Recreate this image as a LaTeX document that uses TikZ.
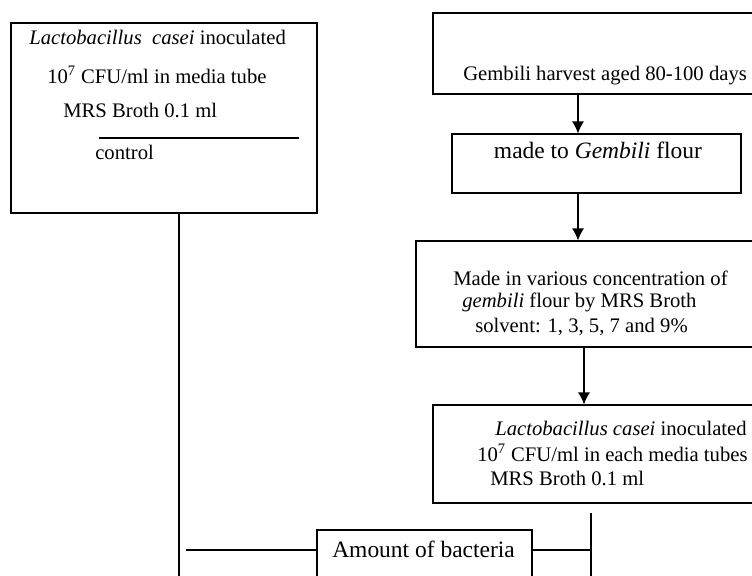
\documentclass[tikz,border=0pt]{standalone}
\usepackage{fontspec}
\setmainfont{Liberation Serif}
\usetikzlibrary{arrows.meta}

\tikzset{box/.style={draw, line width=0.8pt, inner sep=0pt},
         txt/.style={inner sep=0pt, font=\fontsize{14.7}{17}\selectfont},
         wtxt/.style={inner sep=0pt, font=\fontsize{16.7}{19}\selectfont},
         flow/.style={line width=0.8pt, -{Latex[length=8.5pt,width=8.5pt]}},
         link/.style={line width=0.8pt}}

\begin{document}
\begin{tikzpicture}[x=0.025cm, y=-0.025cm]
\useasboundingbox (0,0) rectangle (752,576);
\clip (0,0) rectangle (752,576);

% boxes
\node[box, minimum width=7.65cm, minimum height=4.75cm] (ctrl) at (164,118) {};
\node[box, minimum width=8.675cm, minimum height=2.025cm] (harvest) at (606.5,53.5) {};
\node[box, minimum width=7.225cm, minimum height=1.475cm] (flour) at (596.5,163.5) {};
\node[box, minimum width=9.1cm, minimum height=2.65cm] (conc) at (598,294) {};
\node[box, minimum width=8.675cm, minimum height=2.45cm] (inoc) at (606.5,454) {};
\node[box, minimum width=5.375cm, minimum height=1.75cm] (amount) at (424.5,565) {};

% texts
\node[txt, anchor=west] (ctrl1) at (29,37) {\textit{Lactobacillus\ \ casei} inoculated};
\node[txt, anchor=west] (ctrl2) at (47,75) {10\textsuperscript{7} CFU/ml in media tube};
\node[txt, anchor=west] (ctrl3) at (63,110) {MRS Broth 0.1 ml};
\node[txt, anchor=west] (ctrl4) at (95,152) {control};
\draw[link] (99,138) -- (299,138);

\node[txt, anchor=west] (harv1) at (463,76) {Gembili harvest aged 80-100 days};
\node[wtxt] (flour1) at (598,150) {made to \textit{Gembili} flour};

\node[txt, anchor=west] (conc1) at (453,278) {Made in various concentration of};
\node[txt, anchor=west] (conc2) at (462,302) {\textit{gembili} flour by MRS Broth};
\node[txt, anchor=west] (conc3) at (475,327) {solvent: 1, 3, 5, 7 and 9\%};

\node[txt, anchor=east] (inoc1) at (747,428) {\textit{Lactobacillus casei} inoculated};
\node[txt, anchor=west] (inoc2) at (477,453) {10\textsuperscript{7} CFU/ml in each media tubes};
\node[txt, anchor=west] (inoc3) at (490,478) {MRS Broth 0.1 ml};

\node[wtxt, anchor=west] (amount1) at (332,549) {Amount of bacteria};

% arrows
\coordinate (a1) at ([xshift=-0.7125cm]harvest.south);
\coordinate (a2) at ([xshift=-0.4625cm]flour.south);
\coordinate (a3) at ([xshift=-0.35cm]conc.south);
\draw[flow] (a1) -- (a1 |- flour.north);
\draw[flow] (a2) -- (a2 |- conc.north);
\draw[flow] (a3) -- (a3 |- inoc.north);

% joining lines
\coordinate (bottom) at (0,600);
\coordinate (cdown) at ([xshift=0.375cm]ctrl.south);
\coordinate (lj) at (186,550);
\coordinate (rj) at (591,550);
\coordinate (vtop) at (591,513);
\draw[link] (cdown) -- (cdown |- bottom);
\draw[link] (lj) -- (lj -| amount.west);
\draw[link] (amount.east |- rj) -- (rj);
\draw[link] (vtop) -- (vtop |- bottom);
\end{tikzpicture}
\end{document}
